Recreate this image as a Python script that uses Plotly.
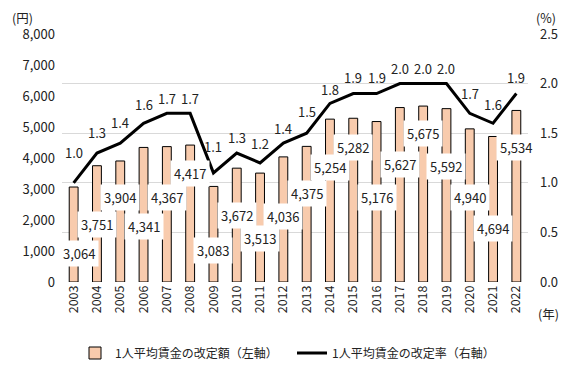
import plotly.graph_objects as go

years = [str(y) for y in range(2003, 2023)]
amount = [3064, 3751, 3904, 4341, 4367, 4417, 3083, 3672, 3513, 4036,
          4375, 5254, 5282, 5176, 5627, 5675, 5592, 4940, 4694, 5534]
rate = [1.0, 1.3, 1.4, 1.6, 1.7, 1.7, 1.1, 1.3, 1.2, 1.4,
        1.5, 1.8, 1.9, 1.9, 2.0, 2.0, 2.0, 1.7, 1.6, 1.9]
# vertical placement of the bar value labels (left-axis units, layout only)
label_pos = [935, 1840, 2710, 1775, 2740, 3515, 1030, 2160, 1390, 2100,
             2840, 3680, 4355, 2740, 3805, 4805, 3740, 2710, 1710, 4355]
label_xshift = [5, 0, 0, 0, 0, 0, 0, 0, 0, 0,
                0, 0, 0, 0, 0, 0, 0, 0, 0, 0]
# pixel offsets of the rate labels above their points (layout only)
rate_label_shift = [30, 21, 21, 19, 15, 15, 26, 16, 19, 15,
                    22, 14, 16, 16, 15, 15, 15, 20, 19, 16]

FONT = "Noto Sans CJK JP"
OFF = 8  # default page body margin
W, H = 575 - OFF, 374 - OFF
PL, PR, PT, PB = 62, 528, 34, 282  # plot area in page pixels
L, T = PL - OFF, PT - OFF
R, B = (OFF + W) - PR, (OFF + H) - PB
pw, ph = PR - PL, PB - PT

def px(xp, yp):
    return (xp - PL) / pw, (PB - yp) / ph

fig = go.Figure()
fig.add_trace(go.Bar(
    x=years, y=amount, name="1人平均賃金の改定額（左軸）",
    marker=dict(color="#F8CBAD", line=dict(color="black", width=1)),
    width=0.38, yaxis="y",
))
fig.add_trace(go.Scatter(
    x=years, y=rate, name="1人平均賃金の改定率（右軸）", mode="lines",
    line=dict(color="black", width=3), yaxis="y2",
))

anns = []
for i, r in enumerate(rate):
    anns.append(dict(x=i, y=r, xref="x", yref="y2", text=f"{r:.1f}",
                     showarrow=False, yshift=rate_label_shift[i],
                     xanchor="center", yanchor="middle",
                     font=dict(size=13, color="#222")))
for i, (v, p) in enumerate(zip(amount, label_pos)):
    anns.append(dict(x=i, y=p, xref="x", yref="y", text=f"{v:,}",
                     showarrow=False, bgcolor="white", borderpad=3,
                     xshift=label_xshift[i],
                     xanchor="center", yanchor="middle",
                     font=dict(size=13, color="#222")))
for (xp, yp, t) in [(22, 17.5, "(円)"), (546, 17.5, "(%)"), (548, 313, "(年)")]:
    ax, ay = px(xp, yp)
    anns.append(dict(x=ax, y=ay, xref="paper", yref="paper", text=t,
                     showarrow=False, xanchor="center", yanchor="middle",
                     font=dict(size=12.5, color="#222")))

lx, ly = px(75, 353)
fig.update_layout(
    annotations=anns,
    width=W, height=H,
    margin=dict(l=L, r=R, t=T, b=B, autoexpand=False),
    paper_bgcolor="white", plot_bgcolor="white",
    font=dict(family=FONT, size=13, color="#222"),
    showlegend=True,
    legend=dict(orientation="h", x=lx, y=ly, xanchor="left", yanchor="middle",
                font=dict(size=12, color="#222"), entrywidth=172,
                itemwidth=30),
    bargap=0.6,
    xaxis=dict(type="category", tickangle=-90, showgrid=False, showline=False,
               ticks="", tickfont=dict(size=12.5), automargin=False,
               range=[-0.5, len(years) - 0.5]),
    yaxis=dict(range=[0, 8000], dtick=1000, tickformat=",", showgrid=False,
               zeroline=False, showline=False, ticks="", automargin=False,
               ticklabelstandoff=6),
    yaxis2=dict(range=[0, 2.5], dtick=0.5, tickformat=".1f", overlaying="y",
                side="right", showgrid=True, gridcolor="#D9D9D9", gridwidth=1,
                zeroline=False, showline=False, ticks="", automargin=False,
                ticklabelstandoff=11),
)
fig.write_html("out.html")
